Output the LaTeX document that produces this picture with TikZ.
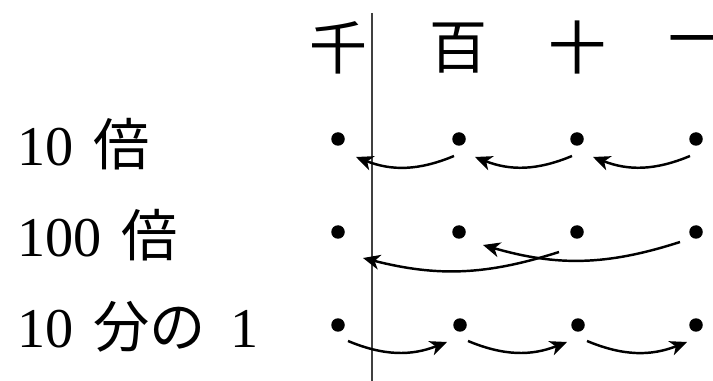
\documentclass[tikz,border=0pt]{standalone}
\usepackage{fontspec}
\setmainfont{Liberation Serif}
\newfontfamily\jpfont{Noto Sans CJK JP}
\usetikzlibrary{
    arrows.meta,
    positioning,
}
\tikzset{
    place/.style={font=\fontsize{33}{36}\selectfont\jpfont, inner sep=0pt},
    rowlabel/.style={font=\fontsize{32}{36}\selectfont, inner sep=0pt, anchor=base west},
    dot/.style={circle, fill, inner sep=0pt, minimum size=0.27cm},
    shiftarrow/.style={line width=1.4pt, -{Stealth[length=0.34cm, width=0.3cm, inset=0.1cm]}},
    divider/.style={line width=0.8pt, black!75},
}

\begin{document}
\begin{tikzpicture}[x=0.02cm, y=-0.02cm]
    \useasboundingbox (0,0) rectangle (713,381);

    % place names
    \node[place] (hth) at (338,48) {千};
    \node[place] (hhu) at (458,48) {百};
    \node[place] (hte) at (577,48) {十};
    \node[place] (hon) at (697,48) {一};

    % row labels
    \node[rowlabel] (ltimes) at (17,166) {10\hspace{0.35em}{\jpfont 倍}};
    \node[rowlabel] (lhundred) at (17,257) {100\hspace{0.35em}{\jpfont 倍}};
    \node[rowlabel] (ltenth) at (17,348) {10\hspace{0.35em}{\jpfont 分の}\hspace{0.45em}1};

    % digits, row by row
    \node[dot] (th1) at (338,139) {};
    \node[dot] (hu1) at (459,139) {};
    \node[dot] (te1) at (577,139) {};
    \node[dot] (on1) at (696,139) {};

    \node[dot] (th2) at (338,232) {};
    \node[dot] (hu2) at (459,232) {};
    \node[dot] (te2) at (577,232) {};
    \node[dot] (on2) at (696,232) {};

    \node[dot] (th3) at (338,325) {};
    \node[dot] (hu3) at (460,325) {};
    \node[dot] (te3) at (578,325) {};
    \node[dot] (on3) at (696,325) {};

    \coordinate (vtop) at (372,13);
    \coordinate (vbot) at (372,381);

    % ===== DRAW ALL CONNECTIONS =====
    \draw[divider] (vtop) -- (vbot);

    \draw[shiftarrow] ([shift={(-5,17)}]hu1.center) to[bend left=22] ([shift={(18,18)}]th1.center);
    \draw[shiftarrow] ([shift={(-5,17)}]te1.center) to[bend left=22] ([shift={(16,18)}]hu1.center);
    \draw[shiftarrow] ([shift={(-6,17)}]on1.center) to[bend left=22] ([shift={(16,18)}]te1.center);

    \draw[shiftarrow] ([shift={(-16,10)}]on2.center) to[bend left=17] ([shift={(24,13)}]hu2.center);
    \draw[shiftarrow] ([shift={(-18,20)}]te2.center) to[bend left=16] ([shift={(25,26)}]th2.center);

    \draw[shiftarrow] ([shift={(10,16)}]th3.center) to[bend right=22] ([shift={(-13,17)}]hu3.center);
    \draw[shiftarrow] ([shift={(8,16)}]hu3.center) to[bend right=22] ([shift={(-11,17)}]te3.center);
    \draw[shiftarrow] ([shift={(9,16)}]te3.center) to[bend right=22] ([shift={(-9,17)}]on3.center);

\end{tikzpicture}
\end{document}
